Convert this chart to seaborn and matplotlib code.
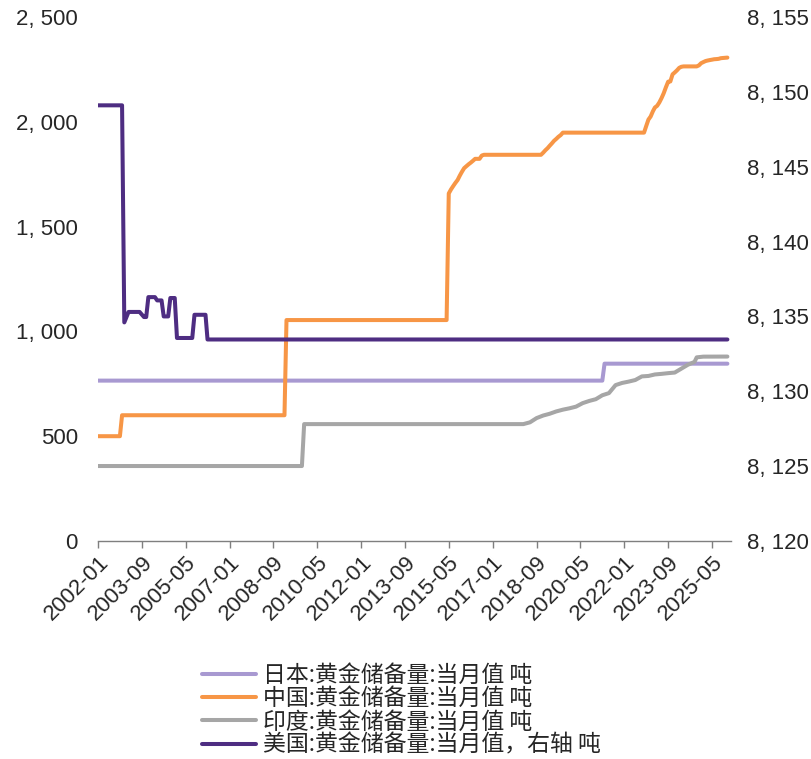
import pandas as pd
import matplotlib
matplotlib.use("Agg")
import matplotlib.pyplot as plt
import matplotlib.dates as mdates
from matplotlib.ticker import FuncFormatter, MultipleLocator
import seaborn as sns

# --- data (tonnes), monthly readings; flat stretches kept as first/last month ---
japan_dates = ["2002-01", "2021-03", "2021-04", "2025-12"]
japan_vals = [765.2, 765.2, 846.0, 846.0]

china_dates = ["2002-01", "2002-11", "2002-12", "2009-02", "2009-03", "2015-04",
               "2015-05", "2015-06", "2015-07", "2015-08", "2015-09", "2015-10",
               "2015-11", "2015-12", "2016-01", "2016-02", "2016-03", "2016-04",
               "2016-05", "2016-07", "2016-08", "2016-09", "2018-11", "2018-12",
               "2019-01", "2019-02", "2019-03", "2019-04", "2019-05", "2019-06",
               "2019-07", "2019-08", "2019-09", "2022-10", "2022-11", "2022-12",
               "2023-01", "2023-02", "2023-03", "2023-04", "2023-05", "2023-06",
               "2023-07", "2023-08", "2023-09", "2023-10", "2023-11", "2023-12",
               "2024-01", "2024-02", "2024-03", "2024-04", "2024-10", "2024-11",
               "2024-12", "2025-01", "2025-02", "2025-03", "2025-04", "2025-05",
               "2025-06", "2025-07", "2025-08", "2025-09", "2025-10", "2025-11",
               "2025-12"]
china_vals = [500.0, 500.0, 600.0, 600.0, 1054.1, 1054.1,
              1658.1, 1677.3, 1693.0, 1708.5, 1722.5, 1743.1,
              1762.3, 1779.0, 1788.3, 1797.5, 1805.1, 1814.1,
              1823.3, 1823.3, 1838.9, 1842.6, 1842.6, 1852.5,
              1864.3, 1874.3, 1885.5, 1897.0, 1909.2, 1918.5,
              1928.5, 1936.5, 1948.3, 1948.3, 1980.4, 2010.5,
              2025.4, 2050.2, 2068.2, 2076.3, 2092.1, 2113.0,
              2136.3, 2165.1, 2191.5, 2192.3, 2226.4, 2235.4,
              2245.4, 2257.3, 2262.4, 2264.3, 2264.3, 2269.3,
              2279.6, 2284.9, 2289.8, 2292.3, 2294.5, 2296.4,
              2298.5, 2299.2, 2300.4, 2303.5, 2304.5, 2305.4,
              2306.3]

india_dates = ["2002-01", "2009-10", "2009-11", "2018-03", "2018-06", "2018-09",
               "2018-12", "2019-03", "2019-06", "2019-09", "2019-12", "2020-03",
               "2020-06", "2020-09", "2020-12", "2021-03", "2021-06", "2021-09",
               "2021-12", "2022-03", "2022-06", "2022-09", "2022-12", "2023-03",
               "2023-06", "2023-09", "2023-12", "2024-03", "2024-06", "2024-09",
               "2024-10", "2025-01", "2025-12"]
india_vals = [357.7, 357.7, 557.7, 557.7, 566.2, 586.4,
              598.6, 607.0, 618.2, 626.6, 633.1, 641.0,
              657.7, 668.3, 676.6, 695.3, 705.6, 743.8,
              754.1, 760.4, 768.0, 785.3, 787.4, 794.6,
              797.4, 800.8, 803.6, 822.1, 840.8, 854.7,
              876.2, 879.6, 880.0]

# 美国 on the right axis
us_dates = ["2002-01", "2002-12", "2003-01", "2003-03", "2003-08", "2003-10",
            "2003-11", "2003-12", "2004-03", "2004-04", "2004-06", "2004-07",
            "2004-09", "2004-10", "2004-12", "2005-01", "2005-08", "2005-09",
            "2006-02", "2006-03", "2025-12"]
us_vals = [8149.1, 8149.1, 8134.6, 8135.3, 8135.3, 8134.96,
           8134.96, 8136.29, 8136.29, 8136.07, 8136.07, 8135.0,
           8135.0, 8136.23, 8136.23, 8133.56, 8133.56, 8135.11,
           8135.11, 8133.46, 8133.46]

labels = ["日本:黄金储备量:当月值 吨", "中国:黄金储备量:当月值 吨",
          "印度:黄金储备量:当月值 吨", "美国:黄金储备量:当月值，右轴 吨"]
colors = ["#A899D1", "#F79646", "#A6A6A6", "#4E2D82"]

sns.set_theme(style="white")
plt.rcParams["font.family"] = ["Liberation Sans", "Noto Sans CJK SC", "DejaVu Sans"]


def frame(dates, vals):
    return pd.DataFrame({"date": pd.to_datetime(dates), "value": vals})


fig = plt.figure(figsize=(8.12, 7.59), dpi=100)
ax = fig.add_axes([98 / 812, 1 - 541 / 759, (731 - 98) / 812, (541 - 17) / 759])
ax2 = ax.twinx()

lw = 2.9
series = [(japan_dates, japan_vals), (china_dates, china_vals), (india_dates, india_vals)]
for (d, v), lab, c in zip(series, labels[:3], colors[:3]):
    sns.lineplot(data=frame(d, v), x="date", y="value", ax=ax, color=c,
                 linewidth=lw, label=lab, legend=False)
sns.lineplot(data=frame(us_dates, us_vals), x="date", y="value", ax=ax2,
             color=colors[3], linewidth=lw, label=labels[3], legend=False)

# axes limits and ticks
ax.set_xlim(pd.Timestamp("2002-01-01"), pd.Timestamp("2026-01-20"))
ax.set_ylim(0, 2500)
ax2.set_ylim(8120, 8155)
ax.yaxis.set_major_locator(MultipleLocator(500))
ax2.yaxis.set_major_locator(MultipleLocator(5))
fmt = FuncFormatter(lambda v, p: f"{int(v):,}".replace(",", ", "))
ax.yaxis.set_major_formatter(fmt)
ax2.yaxis.set_major_formatter(fmt)

tick_dates = pd.date_range("2002-01-01", "2025-05-01", freq="20MS")
ax.set_xticks(tick_dates)
ax.xaxis.set_major_formatter(mdates.DateFormatter("%Y-%m"))

for a in (ax, ax2):
    a.set_xlabel("")
    a.set_ylabel("")
    for s in a.spines.values():
        s.set_visible(False)
ax.spines["bottom"].set_visible(True)
ax.spines["bottom"].set_color("#7F7F7F")
ax.spines["bottom"].set_linewidth(1.0)

ax.tick_params(axis="x", bottom=True, length=5, width=1, color="#7F7F7F",
               labelsize=16, pad=3)
ax.tick_params(axis="y", left=False, length=0, labelsize=16, pad=14.5)
ax2.tick_params(axis="y", right=False, length=0, labelsize=16, pad=11.5)
for t in ax.get_xticklabels():
    t.set_rotation(45)
    t.set_ha("right")
    t.set_rotation_mode("anchor")

# legend below the plot
handles = ax.get_lines()[:3] + ax2.get_lines()[:1]
fig.legend(handles, labels, loc="upper left", bbox_to_anchor=(202 / 812, 1 - 664 / 759),
           frameon=False, borderaxespad=0, borderpad=0, handlelength=2.35,
           handletextpad=0.3, labelspacing=0.01,
           prop={"family": ["Noto Sans CJK SC", "DejaVu Sans"], "size": 16.5})

fig.savefig("out.png", dpi=100)
